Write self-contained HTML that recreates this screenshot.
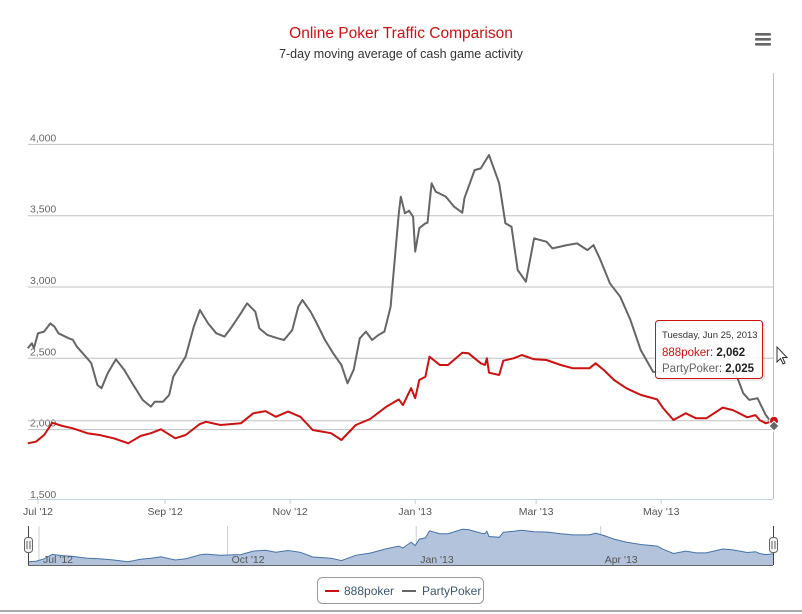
<!DOCTYPE html>
<html><head><meta charset="utf-8"><style>
body{margin:0;background:#fff;}
svg{display:block;font-family:"Liberation Sans",sans-serif;}
</style></head><body>
<svg id="chart" width="802" height="614" viewBox="0 0 802 614">
<rect x="0" y="0" width="802" height="614" fill="#fff"/>
<text x="401" y="38" text-anchor="middle" font-size="15.5" fill="#cc1111">Online Poker Traffic Comparison</text>
<text x="401" y="58" text-anchor="middle" font-size="12.5" fill="#333">7-day moving average of cash game activity</text>
<g>
<rect x="755" y="33" width="16" height="2.6" rx="1" fill="#666"/><rect x="755" y="38" width="16" height="2.6" rx="1" fill="#666"/><rect x="755" y="43" width="16" height="2.6" rx="1" fill="#666"/>
</g>
<g id="grid"></g>
<g id="series"></g>
<g id="nav"></g>
<rect x="0" y="610" width="802" height="2" fill="#aaa"/>
<g>
<rect x="317.5" y="577.5" width="166" height="26" rx="5" fill="#fff" stroke="#999"/>
<g><line x1="325" y1="591" x2="339" y2="591" stroke="#cc1111" stroke-width="2"/><text x="344" y="595" font-size="12" fill="#3e576f">888poker</text></g>
<g><line x1="402" y1="591" x2="416" y2="591" stroke="#666" stroke-width="2"/><text x="422" y="595" font-size="12" fill="#3e576f">PartyPoker</text></g>
</g>
<g id="tip"></g>
</svg>
<script>
// Days offset from Jul 1, 2012
const partyDays = [-5,-3,-2,0,3,6,8,10,15,17,19,24,26,29,31,34,38,42,46,51,55,57,61,64,66,72,76,79,83,87,91,94,99,102,106,108,112,117,120,124,127,129,133,136,140,144,148,151,154,157,160,163,166,169,172,176,177,179,181,183,184,186,189,190,192,194,199,203,207,208,213,216,220,225,228,231,234,238,242,248,251,258,263,268,271,274,279,284,289,294,300,306,310,316,322,328,334,341,344,347,351,355,359];
const partyValues = [2570,2605,2570,2675,2687,2745,2722,2675,2640,2630,2581,2500,2465,2313,2290,2395,2493,2420,2325,2208,2161,2196,2196,2243,2371,2511,2722,2839,2745,2675,2652,2710,2816,2886,2827,2710,2663,2640,2628,2698,2862,2909,2827,2745,2628,2535,2453,2325,2420,2640,2687,2628,2663,2687,2862,3517,3633,3517,3535,3493,3248,3412,3447,3450,3727,3669,3633,3563,3521,3622,3820,3832,3926,3727,3447,3423,3119,3037,3341,3318,3271,3294,3306,3259,3294,3201,3026,2932,2769,2558,2406,2400,2470,2400,2440,2450,2410,2371,2255,2208,2220,2103,2025];
const pokerDays = [-5,-1,3,7,12,17,24,30,37,44,50,55,60,63,67,72,79,82,89,99,105,111,116,122,128,134,143,148,155,162,170,176,178,182,184,186,189,191,196,200,207,210,216,218,219,220,225,227,232,236,242,248,255,261,269,272,276,281,287,294,302,305,310,316,321,326,334,339,346,350,352,355,359];
const pokerValues = [1904,1915,1962,2048,2025,2009,1975,1962,1939,1904,1955,1975,2002,1975,1939,1962,2039,2055,2032,2044,2114,2130,2090,2126,2090,1997,1975,1927,2032,2074,2161,2212,2172,2290,2220,2348,2371,2511,2453,2453,2539,2535,2465,2453,2500,2399,2383,2483,2500,2523,2493,2488,2453,2430,2430,2465,2418,2348,2290,2243,2212,2149,2067,2114,2079,2079,2154,2137,2086,2102,2067,2044,2062];
const yTicks = [1500,2000,2500,3000,3500,4000];
const yTickLabels = ["1,500","2,000","2,500","3,000","3,500","4,000"];
const xTickDays = [0,62,123,184,243,304];
const xTickLabels = ["Jul '12","Sep '12","Nov '12","Jan '13","Mar '13","May '13"];
const navTickDays = [0,92,184,274];
const navTickLabels = ["Jul '12","Oct '12","Jan '13","Apr '13"];

const NS="http://www.w3.org/2000/svg";
const xs = d => 38 + d*2.05;
const ys = v => 429.6 - (v-2000)*0.1426;
const nys = v => 562 - (v-1900)*0.0511;
function mk(tag, attrs, parent){const e=document.createElementNS(NS,tag);for(const k in attrs)e.setAttribute(k,attrs[k]);parent.appendChild(e);return e;}
const grid=document.getElementById('grid'), ser=document.getElementById('series'), nav=document.getElementById('nav'), tip=document.getElementById('tip');

yTicks.forEach((v,i)=>{
  if(i>0){const l=mk('line',{x1:28,x2:773,y1:ys(v),y2:ys(v),stroke:'#c0c0c0','stroke-width':1},grid);
  
  }
  const t=mk('text',{x:30,y:ys(v)-3,'font-size':10.5,fill:'#666'},grid);
  t.textContent=yTickLabels[i];
  
  
});
const ax=mk('line',{x1:28,x2:773,y1:499.5,y2:499.5,stroke:'#c0d0e0','stroke-width':1},grid);


xTickDays.forEach((d,i)=>{
  const tk=mk('line',{x1:xs(d),x2:xs(d),y1:499,y2:504,stroke:'#c0d0e0'},grid);
  
  
  const t=mk('text',{x:xs(d),y:515,'font-size':10.5,fill:'#555','text-anchor':'middle'},grid);
  t.textContent=xTickLabels[i];
  
  
});
// crosshairs
const ch=mk('line',{x1:773.5,x2:773.5,y1:73,y2:499,stroke:'#c0c0c0'},grid);


const hh=mk('line',{x1:28,x2:773,y1:ys(pokerValues[pokerValues.length-1]),y2:ys(pokerValues[pokerValues.length-1]),stroke:'#c0c0c0'},grid);



function linePath(days,vals,yf){return days.map((d,i)=>(i?'L':'M')+xs(d).toFixed(1)+','+yf(vals[i]).toFixed(1)).join(' ');}
const pp=mk('path',{d:linePath(partyDays,partyValues,ys),fill:'none',stroke:'#666','stroke-width':2,'stroke-linejoin':'round'},ser);


const rp=mk('path',{d:linePath(pokerDays,pokerValues,ys),fill:'none',stroke:'#cc1111','stroke-width':2,'stroke-linejoin':'round'},ser);


const lastD=pokerDays[pokerDays.length-1];
const m1=mk('circle',{cx:xs(lastD),cy:ys(pokerValues[pokerValues.length-1]),r:4.5,fill:'#cc1111',stroke:'#fff','stroke-width':1},ser);


const px=xs(partyDays[partyDays.length-1]), py=ys(partyValues[partyValues.length-1]);
const m2=mk('path',{d:`M${px},${py-5} L${px+5},${py} L${px},${py+5} L${px-5},${py} Z`,fill:'#666',stroke:'#fff','stroke-width':1},ser);



// navigator
navTickDays.forEach((d,i)=>{
  const l=mk('line',{x1:xs(d)+1,x2:xs(d)+1,y1:526,y2:565,stroke:'#ccc'},nav);
  
  
});
let area='M28,565 '+pokerDays.map((d,i)=>'L'+Math.max(28,xs(d)).toFixed(1)+','+nys(pokerValues[i]).toFixed(1)).join(' ')+' L773,565 Z';
const na=mk('path',{d:area,fill:'#b3c3db',stroke:'none'},nav);


const nl=mk('path',{d:pokerDays.map((d,i)=>(i?'L':'M')+Math.max(28,xs(d)).toFixed(1)+','+nys(pokerValues[i]).toFixed(1)).join(' '),fill:'none',stroke:'#4572a7','stroke-width':1},nav);


navTickDays.forEach((d,i)=>{
  const t=mk('text',{x:xs(d)+5,y:563,'font-size':10.5,fill:'#555'},nav);
  t.textContent=navTickLabels[i];
  
  
});
const nb=mk('line',{x1:28,x2:773,y1:565.5,y2:565.5,stroke:'#666'},nav);


[28.5,773.5].forEach((x,i)=>{
  const l=mk('line',{x1:x,x2:x,y1:526,y2:565,stroke:'#444'},nav);
  
  
  const h=mk('rect',{x:x-4,y:537.5,width:8,height:15,rx:3,fill:'#f2f2f2',stroke:'#666'},nav);
  
  
  mk('line',{x1:x-1.5,x2:x-1.5,y1:541,y2:549,stroke:'#666'},nav);
  mk('line',{x1:x+1.5,x2:x+1.5,y1:541,y2:549,stroke:'#666'},nav);
});

// tooltip
const tg=mk('g',{},tip);


mk('rect',{x:657,y:322,width:108,height:59,rx:3,fill:'#000',opacity:0.08},tg);
mk('rect',{x:655.5,y:320.5,width:107,height:58,rx:3,fill:'rgba(255,255,255,0.92)',stroke:'#cc1111'},tg);
const t1=mk('text',{x:662,y:338,'font-size':9.5,fill:'#333'},tg);t1.textContent='Tuesday, Jun 25, 2013';
const t2=mk('text',{x:662,y:356,'font-size':11.5,fill:'#cc1111'},tg);t2.innerHTML='888poker<tspan fill="#333">: </tspan><tspan fill="#222" font-weight="bold">2,062</tspan>';
const t3=mk('text',{x:662,y:372,'font-size':11.5,fill:'#666'},tg);t3.innerHTML='PartyPoker<tspan fill="#333">: </tspan><tspan fill="#222" font-weight="bold">2,025</tspan>';
const cur=mk('path',{d:'M777,347 L777,362 L780.5,358.5 L783,364 L785,363 L782.5,357.5 L787,357.5 Z',fill:'#fff',stroke:'#333','stroke-width':1},tip);


</script>
</body></html>
